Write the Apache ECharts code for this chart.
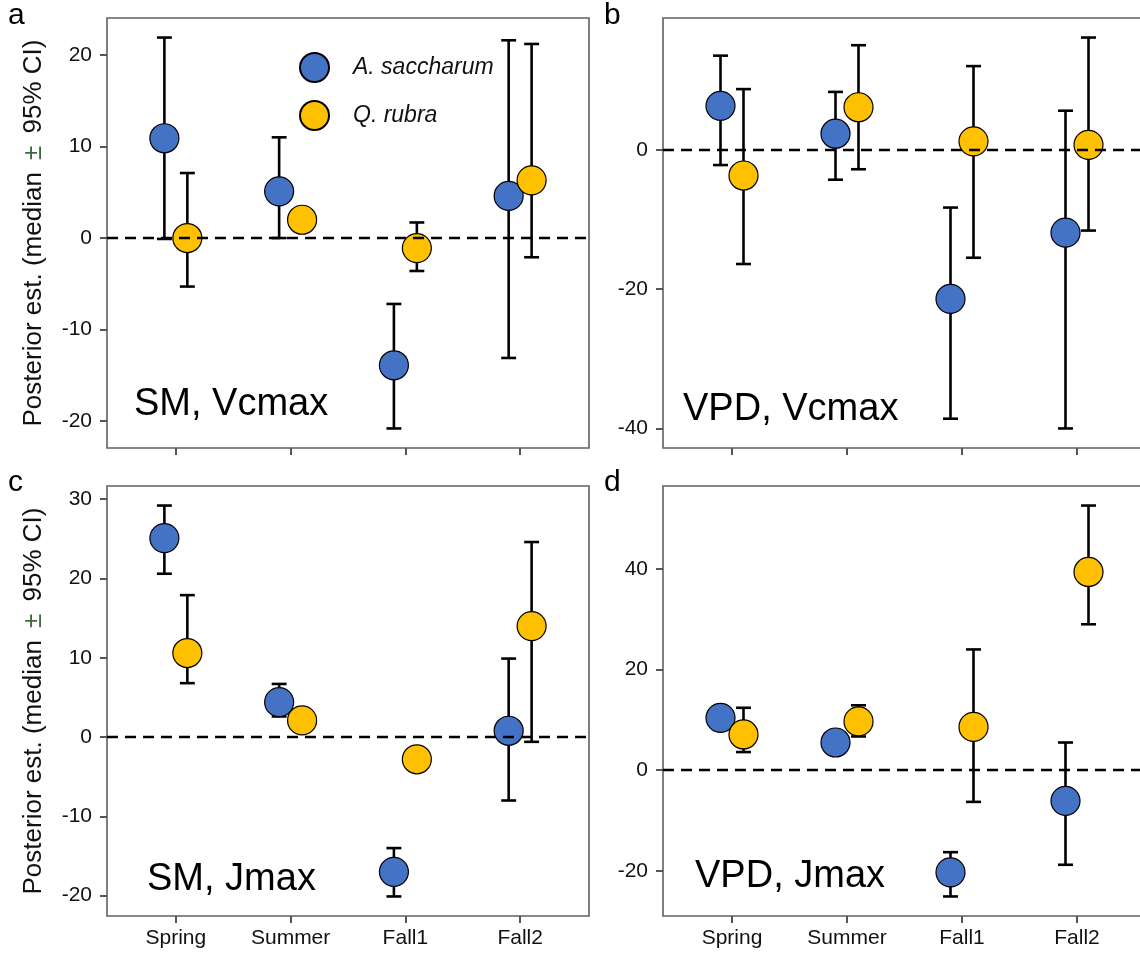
<!DOCTYPE html>
<html>
<head>
<meta charset="utf-8">
<script src="https://cdn.jsdelivr.net/npm/echarts@6/dist/echarts.min.js"></script>
<style>
  html, body { margin: 0; padding: 0; background: #fff; overflow: hidden; }
  #chart { width: 1150px; height: 954px; }
</style>
</head>
<body>
<div id="chart"></div>
<script>
// Seasons on the x axis and the two species
const seasons = ['Spring', 'Summer', 'Fall1', 'Fall2'];
const speciesNames = ['A. saccharum', 'Q. rubra'];

// a: soil-moisture effect on Vcmax (posterior median and 95% CI)
const smVcmaxSacMedian = [10.9, 5.1, -13.9, 4.6];
const smVcmaxSacLower  = [-0.1, 0.0, -20.8, -13.1];
const smVcmaxSacUpper  = [21.9, 11.0, -7.2, 21.6];
const smVcmaxRubMedian = [0.0, 2.0, -1.1, 6.3];
const smVcmaxRubLower  = [-5.3, 1.2, -3.6, -2.1];
const smVcmaxRubUpper  = [7.1, 2.8, 1.7, 21.2];

// b: VPD effect on Vcmax
const vpdVcmaxSacMedian = [6.3, 2.3, -21.4, -11.9];
const vpdVcmaxSacLower  = [-2.2, -4.3, -38.6, -40.0];
const vpdVcmaxSacUpper  = [13.5, 8.3, -8.3, 5.6];
const vpdVcmaxRubMedian = [-3.7, 6.1, 1.2, 0.7];
const vpdVcmaxRubLower  = [-16.4, -2.8, -15.5, -11.6];
const vpdVcmaxRubUpper  = [8.7, 15.0, 12.0, 16.1];

// c: soil-moisture effect on Jmax
const smJmaxSacMedian = [25.1, 4.4, -17.0, 0.8];
const smJmaxSacLower  = [20.6, 2.6, -20.1, -8.0];
const smJmaxSacUpper  = [29.2, 6.7, -14.0, 9.9];
const smJmaxRubMedian = [10.6, 2.1, -2.8, 14.0];
const smJmaxRubLower  = [6.8, 1.0, -3.9, -0.6];
const smJmaxRubUpper  = [17.9, 3.2, -1.7, 24.6];

// d: VPD effect on Jmax
const vpdJmaxSacMedian = [10.4, 5.5, -20.3, -6.1];
const vpdJmaxSacLower  = [8.0, 3.5, -25.1, -18.8];
const vpdJmaxSacUpper  = [12.5, 7.5, -16.3, 5.5];
const vpdJmaxRubMedian = [7.1, 9.7, 8.6, 39.4];
const vpdJmaxRubLower  = [3.6, 6.7, -6.3, 29.0];
const vpdJmaxRubUpper  = [12.4, 12.9, 24.0, 52.6];

// y tick values per panel
const yTicksSmVcmax  = [-20, -10, 0, 10, 20];
const yTicksVpdVcmax = [-40, -20, 0];
const yTicksSmJmax   = [-20, -10, 0, 10, 20, 30];
const yTicksVpdJmax  = [-20, 0, 20, 40];

// panel labels and in-panel titles
const panelLetters = ['a', 'b', 'c', 'd'];
const panelTitles = ['SM, Vcmax', 'VPD, Vcmax', 'SM, Jmax', 'VPD, Jmax'];
const yAxisTitle = 'Posterior est. (median {pm|±} 95% CI)';

const FONT = '"Liberation Sans", Arial, sans-serif';
const COLORS = ['#4472C4', '#FFC000'];
const DODGE = 0.1;      // horizontal offset of each species from the season tick
const CAP = 0.13;       // error-bar cap width in x units
const BORDER = '#606060';

const panels = [
  { sac: [smVcmaxSacMedian, smVcmaxSacLower, smVcmaxSacUpper],
    rub: [smVcmaxRubMedian, smVcmaxRubLower, smVcmaxRubUpper], ticks: yTicksSmVcmax },
  { sac: [vpdVcmaxSacMedian, vpdVcmaxSacLower, vpdVcmaxSacUpper],
    rub: [vpdVcmaxRubMedian, vpdVcmaxRubLower, vpdVcmaxRubUpper], ticks: yTicksVpdVcmax },
  { sac: [smJmaxSacMedian, smJmaxSacLower, smJmaxSacUpper],
    rub: [smJmaxRubMedian, smJmaxRubLower, smJmaxRubUpper], ticks: yTicksSmJmax },
  { sac: [vpdJmaxSacMedian, vpdJmaxSacLower, vpdJmaxSacUpper],
    rub: [vpdJmaxRubMedian, vpdJmaxRubLower, vpdJmaxRubUpper], ticks: yTicksVpdJmax }
];

// plot-area boxes (pixels)
const boxes = [
  { left: 107, top: 18,  width: 482, height: 430 },
  { left: 663, top: 18,  width: 483, height: 430 },
  { left: 107, top: 486, width: 482, height: 430 },
  { left: 663, top: 486, width: 483, height: 430 }
];
const letterPos = [[8, 1], [604, 1], [8, 468], [604, 468]];
const titlePos = [[134, 386], [683, 391], [147, 861], [695, 858]];

function renderErrorBar(params, api) {
  const x = api.value(0), lo = api.value(1), hi = api.value(2);
  const top = api.coord([x, hi]);
  const bot = api.coord([x, lo]);
  const half = api.size([CAP, 0])[0] / 2;
  const style = { stroke: '#000', lineWidth: 2.6, fill: null };
  return {
    type: 'group',
    children: [
      { type: 'line', shape: { x1: top[0], y1: top[1], x2: bot[0], y2: bot[1] }, style },
      { type: 'line', shape: { x1: top[0] - half, y1: top[1], x2: top[0] + half, y2: top[1] }, style },
      { type: 'line', shape: { x1: bot[0] - half, y1: bot[1], x2: bot[0] + half, y2: bot[1] }, style }
    ]
  };
}

const grid = [], xAxis = [], yAxis = [], series = [], graphic = [];

panels.forEach((p, k) => {
  const all = p.sac[1].concat(p.sac[2], p.rub[1], p.rub[2]);
  const lo = Math.min(...all), hi = Math.max(...all);
  const pad = (hi - lo) * 0.05;

  grid.push(Object.assign({ show: true, borderColor: BORDER, borderWidth: 1.6,
    backgroundColor: 'transparent', containLabel: false, outerBoundsMode: 'none' }, boxes[k]));

  xAxis.push({
    type: 'value', gridIndex: k, min: 0.4, max: 4.6, position: 'bottom',
    axisLine: { show: false, onZero: false },
    splitLine: { show: false },
    axisTick: { show: true, length: 7, lineStyle: { color: '#555', width: 2 },
      customValues: seasons.map((s, i) => i + 1) },
    axisLabel: { show: k >= 2, fontFamily: FONT, fontSize: 21, color: '#111', margin: 12,
      customValues: seasons.map((s, i) => i + 1),
      formatter: v => seasons[Math.round(v) - 1] || '' }
  });

  yAxis.push({
    type: 'value', gridIndex: k, min: lo - pad, max: hi + pad, position: 'left',
    axisLine: { show: false, onZero: false },
    splitLine: { show: false },
    axisTick: { show: true, length: 7, lineStyle: { color: '#555', width: 2 }, customValues: p.ticks },
    axisLabel: { fontFamily: FONT, fontSize: 21, color: '#111', margin: 15, customValues: p.ticks,
      formatter: v => String(v) },
    name: (k % 2 === 0) ? yAxisTitle : '',
    nameLocation: 'middle',
    nameGap: 60,
    nameTextStyle: { fontFamily: FONT, fontSize: 26, color: '#111',
      rich: { pm: { fontFamily: FONT, fontSize: 26, color: '#3d6b3d', padding: [0, 5, 0, 5] } } }
  });

  [p.sac, p.rub].forEach((d, s) => {
    const off = s === 0 ? -DODGE : DODGE;
    series.push({
      type: 'custom', name: speciesNames[s] + ' CI', xAxisIndex: k, yAxisIndex: k,
      renderItem: renderErrorBar, z: 2, silent: true,
      encode: { x: 0, y: [1, 2] },
      data: seasons.map((_, i) => [i + 1 + off, d[1][i], d[2][i]]),
      markLine: s === 0 ? {
        silent: true, symbol: 'none', label: { show: false },
        lineStyle: { color: '#000', type: [11, 7], width: 2.4 },
        data: [{ yAxis: 0 }]
      } : undefined
    });
  });
  [p.sac, p.rub].forEach((d, s) => {
    const off = s === 0 ? -DODGE : DODGE;
    series.push({
      type: 'scatter', name: speciesNames[s], xAxisIndex: k, yAxisIndex: k,
      symbol: 'circle', symbolSize: 29, z: 3 + s,
      itemStyle: { color: COLORS[s], borderColor: '#000', borderWidth: 1.2, opacity: 1 },
      data: seasons.map((_, i) => [i + 1 + off, d[0][i]])
    });
  });

  graphic.push({
    type: 'text', left: letterPos[k][0], top: letterPos[k][1],
    style: { text: panelLetters[k], font: '30px ' + FONT, fill: '#000' }
  });
  graphic.push({
    type: 'text', left: titlePos[k][0], top: titlePos[k][1],
    style: { text: panelTitles[k], font: '38px ' + FONT, fill: '#000' }
  });
});

const chart = echarts.init(document.getElementById('chart'), null, { renderer: 'canvas' });
chart.setOption({
  animation: false,
  backgroundColor: '#fff',
  grid, xAxis, yAxis, series, graphic,
  legend: {
    data: speciesNames,
    orient: 'vertical',
    left: 294, top: 47, padding: 5,
    itemWidth: 29, itemHeight: 29, itemGap: 17,
    icon: 'circle',
    selectedMode: false,
    textStyle: { fontFamily: FONT, fontSize: 23, fontStyle: 'italic', color: '#111',
      lineHeight: 26, padding: [0, 0, 0, 19] }
  }
});
</script>
</body>
</html>
